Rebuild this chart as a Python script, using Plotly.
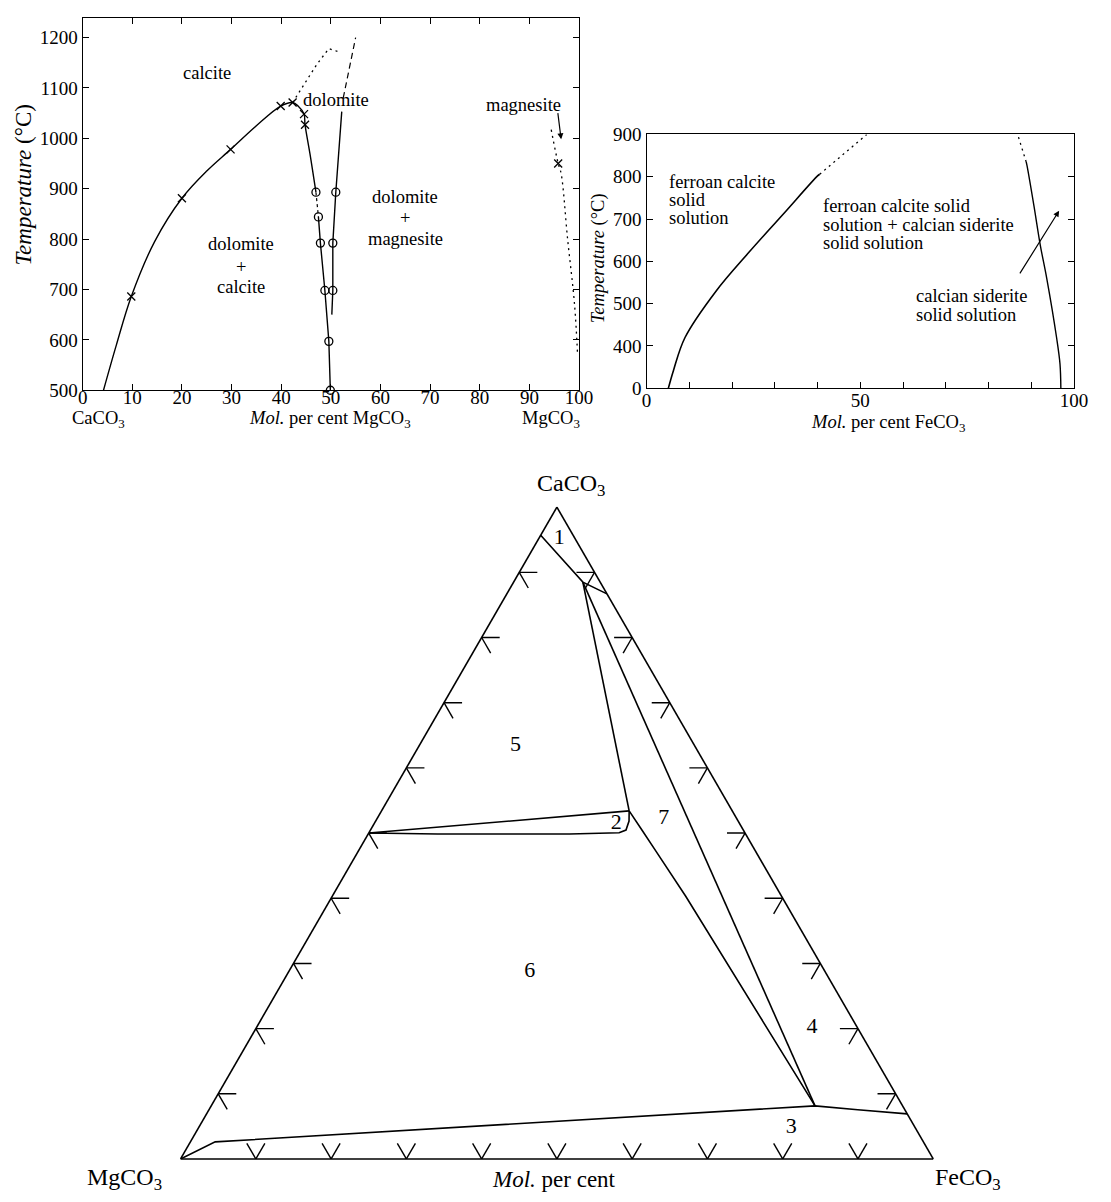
import plotly.graph_objects as go

W, H = 1111, 1202
FONT = "Liberation Serif"

# ---------------- Panel 1: CaCO3 - MgCO3 (T vs mol % MgCO3) ----------------
calcite_x = [4.2, 6.8, 9.8, 14.5, 20.0, 25.0, 29.8, 35.0, 39.9, 42.3, 43.4, 44.6, 44.8, 45.8, 47.0]
calcite_T = [500, 590, 686, 795, 881, 935, 978, 1025, 1064, 1071, 1064, 1048, 1027, 969, 893]
dolL_dash_x = [47.0, 47.5]
dolL_dash_T = [893, 844]
dolL_x = [47.5, 47.9, 48.8, 49.6, 49.9]
dolL_T = [844, 792, 698, 597, 500]
dolR_x = [50.2, 50.4, 50.4, 51.0, 52.2]
dolR_T = [650, 698, 792, 893, 1053]
dolR_dash_x = [52.5, 55.0]
dolR_dash_T = [1080, 1200]
top_dot_x = [42.3, 44.5, 47.2, 49.6, 51.8]
top_dot_T = [1071, 1105, 1147, 1178, 1171]
mgs_x = [94.4, 95.8, 96.4, 97.7, 99.1, 99.7]
mgs_T = [1017, 950, 930, 800, 670, 572]
cross_x = [9.8, 20.0, 29.8, 39.9, 42.3, 44.6, 44.8, 95.8]
cross_T = [686, 881, 978, 1064, 1071, 1048, 1027, 950]
circ_x = [47.0, 47.5, 47.9, 48.8, 49.6, 49.9, 51.0, 50.4, 50.4]
circ_T = [893, 844, 792, 698, 597, 500, 893, 792, 698]
p1_xticks = list(range(0, 101, 10))
p1_yticks = list(range(500, 1201, 100))

# ---------------- Panel 2: CaCO3 - FeCO3 (T vs mol % FeCO3) ----------------
fcc_x = [5.1, 6.3, 9.0, 16.2, 24.0, 32.0, 40.0, 40.5]
fcc_T = [0, 169, 420, 529, 622, 712, 802, 806]
fcc_dot_x = [40.5, 51.5]
fcc_dot_T = [806, 900]
csd_x = [96.9, 96.7, 95.9, 93.6, 92.1, 90.6, 89.0, 88.8]
csd_T = [0, 231, 420, 560, 638, 732, 826, 835]
csd_dot_x = [88.8, 86.8]
csd_dot_T = [835, 900]
p2_xticks = [0, 50, 100]
p2_xminor = 10
p2_yticks = [0, 400, 500, 600, 700, 800, 900]

# ---------------- Ternary: CaCO3 (a) - MgCO3 (b) - FeCO3 (c), mol % ----------------
reg1_a = [95.7, 88.5, 86.7]
reg1_b = [4.3, 2.3, 0.0]
reg1_c = [0.0, 9.2, 13.3]
tie_a = [88.5, 53.4]
tie_b = [2.3, 13.7]
tie_c = [9.2, 32.9]
tie2_a = [88.5, 8.15]
tie2_b = [2.3, 11.63]
tie2_c = [9.2, 80.22]
reg2_top_a = [50.0, 53.4]
reg2_top_b = [50.0, 13.7]
reg2_top_c = [0.0, 32.9]
reg2_bot_a = [50.0, 49.85, 49.85, 50.05, 50.46, 51.85, 53.4]
reg2_bot_b = [50.0, 40.91, 23.39, 16.71, 15.59, 14.49, 13.7]
reg2_bot_c = [0.0, 9.24, 26.76, 33.24, 33.95, 33.66, 32.9]
qj_a = [53.4, 50.31, 47.23, 40.31, 8.15]
qj_b = [13.7, 13.46, 13.23, 12.73, 11.63]
qj_c = [32.9, 36.23, 39.54, 46.96, 80.22]
low_a = [0.0, 2.62, 8.15, 7.54, 6.92]
low_b = [100.0, 94.09, 11.63, 6.26, 0.0]
low_c = [0.0, 3.29, 80.22, 86.2, 93.08]
field_labels = ["1", "2", "3", "4", "5", "6", "7"]
field_a = [95.2, 51.4, 4.9, 20.2, 63.4, 28.8, 52.2]
field_b = [2.1, 16.4, 16.4, 6.0, 23.8, 39.2, 9.7]
field_c = [2.7, 32.2, 78.7, 73.8, 12.8, 32.0, 38.1]
tern_ticks = [10, 20, 30, 40, 50, 60, 70, 80, 90]


def tmap(t):
    # panel 2 temperature axis is broken: 0-400 squeezed into one interval
    return t if t >= 400 else 300 + t * 100.0 / 400.0


def px(x):
    return x / W


def py(y):
    return 1 - y / H


fig = go.Figure()
blk = dict(color="black", width=1.4)

# panel 1 traces
fig.add_trace(go.Scatter(x=calcite_x, y=calcite_T, mode="lines", line=dict(color="black", width=1.4, shape="spline", smoothing=1.0), xaxis="x", yaxis="y"))
fig.add_trace(go.Scatter(x=dolL_dash_x, y=dolL_dash_T, mode="lines", line=dict(color="black", width=1.2, dash="3px,3px"), xaxis="x", yaxis="y"))
fig.add_trace(go.Scatter(x=dolL_x, y=dolL_T, mode="lines", line=blk, xaxis="x", yaxis="y"))
fig.add_trace(go.Scatter(x=dolR_x, y=dolR_T, mode="lines", line=blk, xaxis="x", yaxis="y"))
fig.add_trace(go.Scatter(x=dolR_dash_x, y=dolR_dash_T, mode="lines", line=dict(color="black", width=1.2, dash="6px,4px"), xaxis="x", yaxis="y"))
fig.add_trace(go.Scatter(x=top_dot_x, y=top_dot_T, mode="lines", line=dict(color="black", width=1.3, dash="2px,4px"), xaxis="x", yaxis="y"))
fig.add_trace(go.Scatter(x=mgs_x, y=mgs_T, mode="lines", line=dict(color="black", width=1.3, dash="2px,4px", shape="spline"), xaxis="x", yaxis="y"))
fig.add_trace(go.Scatter(x=cross_x, y=cross_T, mode="markers", marker=dict(symbol="x-thin", size=8, line=dict(color="black", width=1.3)), xaxis="x", yaxis="y", cliponaxis=False))
fig.add_trace(go.Scatter(x=circ_x, y=circ_T, mode="markers", marker=dict(symbol="circle-open", size=8, color="black", line=dict(color="black", width=1.3)), xaxis="x", yaxis="y", cliponaxis=False))

# panel 2 traces
fig.add_trace(go.Scatter(x=fcc_x, y=[tmap(t) for t in fcc_T], mode="lines", line=dict(color="black", width=1.6, shape="spline", smoothing=1.0), xaxis="x2", yaxis="y2"))
fig.add_trace(go.Scatter(x=fcc_dot_x, y=[tmap(t) for t in fcc_dot_T], mode="lines", line=dict(color="black", width=1.3, dash="2px,4px"), xaxis="x2", yaxis="y2"))
fig.add_trace(go.Scatter(x=csd_x, y=[tmap(t) for t in csd_T], mode="lines", line=dict(color="black", width=1.4, shape="spline", smoothing=1.0), xaxis="x2", yaxis="y2"))
fig.add_trace(go.Scatter(x=csd_dot_x, y=[tmap(t) for t in csd_dot_T], mode="lines", line=dict(color="black", width=1.3, dash="2px,4px"), xaxis="x2", yaxis="y2"))

# ternary traces
tl = dict(color="black", width=1.6)
for A, B, C in [(reg1_a, reg1_b, reg1_c), (tie_a, tie_b, tie_c), (tie2_a, tie2_b, tie2_c),
                (reg2_top_a, reg2_top_b, reg2_top_c), (reg2_bot_a, reg2_bot_b, reg2_bot_c),
                (qj_a, qj_b, qj_c), (low_a, low_b, low_c)]:
    fig.add_trace(go.Scatterternary(a=A, b=B, c=C, mode="lines", line=tl, subplot="ternary"))

# tick marks of the ternary (arrow-head style), built from tick values
L = 2.4
ta, tb, tc = [], [], []
for v in tern_ticks:
    # left edge (FeCO3 = 0): horizontal arm + arm parallel to right edge
    ta += [v, v, None, v, v - L, None]
    tb += [100 - v, 100 - v - L, None, 100 - v, 100 - v, None]
    tc += [0, L, None, 0, L, None]
    # bottom edge (CaCO3 = 0)
    ta += [0, L, None, 0, L, None]
    tb += [100 - v, 100 - v, None, 100 - v, 100 - v - L, None]
    tc += [v, v - L, None, v, v, None]
    # right edge (MgCO3 = 0)
    ta += [v, v, None, v, v - L, None]
    tb += [0, L, None, 0, L, None]
    tc += [100 - v, 100 - v - L, None, 100 - v, 100 - v, None]
fig.add_trace(go.Scatterternary(a=ta, b=tb, c=tc, mode="lines", line=dict(color="black", width=1.4), subplot="ternary"))
fig.add_trace(go.Scatterternary(a=field_a, b=field_b, c=field_c, mode="text", text=field_labels,
                                textfont=dict(family=FONT, size=22, color="black"), subplot="ternary", cliponaxis=False))

TF = dict(family=FONT, size=19, color="black")
axis_common = dict(showline=True, linecolor="black", linewidth=1.3, mirror="allticks", ticks="inside",
                   ticklen=6, tickcolor="black", tickwidth=1.1, showgrid=False, zeroline=False, tickfont=TF)

tern_axis = dict(showline=True, linecolor="black", linewidth=1.6, showgrid=False, showticklabels=False,
                 ticks="", title=dict(text=""))

fig.update_layout(
    width=W, height=H, margin=dict(l=0, r=0, t=0, b=0),
    paper_bgcolor="white", plot_bgcolor="white", showlegend=False,
    font=dict(family=FONT, color="black"),
    xaxis=dict(domain=[px(79), px(584)], range=[0, 100], tickvals=p1_xticks, anchor="y",
               ticklabelstandoff=-10, **axis_common),
    yaxis=dict(domain=[py(387), py(8)], range=[500, 1239], tickvals=p1_yticks, anchor="x", **axis_common),
    xaxis2=dict(domain=[px(652.7), px(1087.7)], range=[0, 100], tickvals=p2_xticks,
                anchor="y2", showline=True, linecolor="black", linewidth=1.3, mirror=True, ticks="inside",
                ticklen=6, tickcolor="black", showgrid=False, zeroline=False, tickfont=TF,
                ticklabelstandoff=-5,
                minor=dict(dtick=p2_xminor, ticks="inside", ticklen=6, tickcolor="black", showgrid=False)),
    yaxis2=dict(domain=[py(385), py(126.7)], range=[300, 900], tickvals=[tmap(t) for t in p2_yticks],
                ticktext=[str(t) for t in p2_yticks], anchor="x2", showline=True, linecolor="black",
                linewidth=1.3, mirror="ticks", ticks="inside", ticklen=6, tickcolor="black",
                showgrid=False, zeroline=False, tickfont=TF),
    ternary=dict(domain=dict(x=[px(178.5), px(178.5 + 766)], y=[py(506 + 663.4), py(506)]),
                 sum=100, bgcolor="white", aaxis=tern_axis, baxis=tern_axis, caxis=tern_axis),
)

ann = []


def txt(text, x, y, xref="paper", yref="paper", size=18.5, xanchor="center", angle=0):
    ann.append(dict(text=text, x=x, y=y, xref=xref, yref=yref, showarrow=False, xanchor=xanchor,
                    yanchor="middle", textangle=angle, font=dict(family=FONT, size=size, color="black")))


# panel 1 text
txt("<i>Temperature</i> (°C)", px(19), py(178), size=23, angle=-90)
txt("CaCO<sub>3</sub>", px(95), py(417))
txt("<i>Mol.</i> per cent MgCO<sub>3</sub>", px(331), py(417))
txt("MgCO<sub>3</sub>", px(556), py(417))
txt("calcite", 25.0, 1130, "x", "y")
txt("dolomite", 51.0, 1076, "x", "y")
for s, t in [("dolomite", 884), ("+", 842), ("magnesite", 800)]:
    txt(s, 65.0, t, "x", "y")
for s, t in [("dolomite", 790), ("+", 744), ("calcite", 705)]:
    txt(s, 31.9, t, "x", "y")
txt("magnesite", 88.8, 1066, "x", "y")
ann.append(dict(x=96.4, y=998, ax=95.7, ay=1053, xref="x", yref="y", axref="x", ayref="y", text="",
                showarrow=True, arrowhead=2, arrowsize=1, arrowwidth=1.2, arrowcolor="black"))

# panel 2 text
txt("<i>Temperature</i> (°C)", px(604), py(253), size=18.5, angle=-90)
txt("<i>Mol.</i> per cent FeCO<sub>3</sub>", px(898), py(421))
for s, t in [("ferroan calcite", 787), ("solid", 745), ("solution", 702)]:
    txt(s, 4.7, t, "x2", "y2", xanchor="left")
for s, t in [("ferroan calcite solid", 730), ("solution + calcian siderite", 687), ("solid solution", 644)]:
    txt(s, 40.8, t, "x2", "y2", xanchor="left")
for s, t in [("calcian siderite", 517), ("solid solution", 474)]:
    txt(s, 62.6, t, "x2", "y2", xanchor="left")
ann.append(dict(x=96.5, y=720, ax=87.1, ay=568, xref="x2", yref="y2", axref="x2", ayref="y2", text="",
                showarrow=True, arrowhead=2, arrowsize=1, arrowwidth=1.2, arrowcolor="black"))

# ternary text
txt("CaCO<sub>3</sub>", px(576), py(483), size=24)
txt("MgCO<sub>3</sub>", px(122), py(1190), size=24)
txt("FeCO<sub>3</sub>", px(980), py(1190), size=24)
txt("<i>Mol.</i> per cent", px(559), py(1190), size=23)

fig.update_layout(annotations=ann)

fig.write_html("out.html", config={"displayModeBar": False},
               post_script="document.body.style.margin='0';document.body.style.overflow='hidden';")
